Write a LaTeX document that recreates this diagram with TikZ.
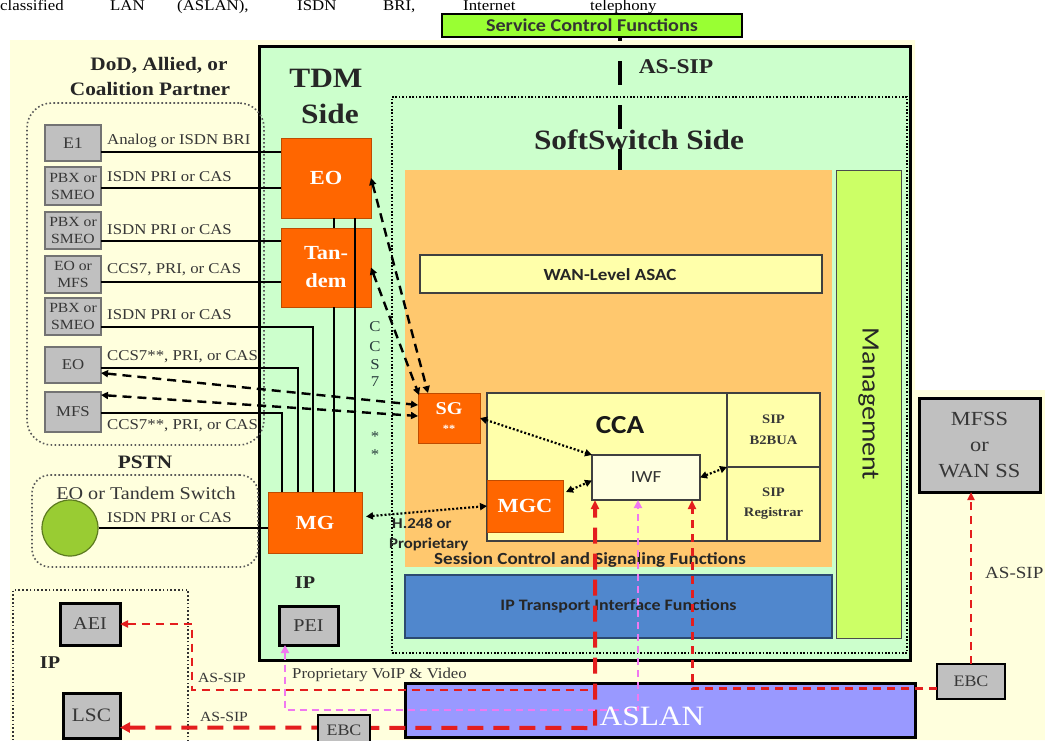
\documentclass[tikz,border=0pt]{standalone}
\usepackage{fontspec}
\setmainfont{Liberation Serif}[FakeStretch=1.12]
\newfontfamily\calfont{Carlito}[FakeStretch=1.12]
\usetikzlibrary{arrows.meta,calc}
\newcommand{\fsz}[2]{\fontsize{#1}{#2}\selectfont}
\definecolor{bgyel}{RGB}{255,255,221}
\definecolor{tdmgreen}{RGB}{204,255,204}
\definecolor{scfgreen}{RGB}{153,255,51}
\definecolor{mgmtgreen}{RGB}{204,255,102}
\definecolor{scsorange}{RGB}{255,200,110}
\definecolor{boxorange}{RGB}{255,102,0}
\definecolor{ccayel}{RGB}{255,255,170}
\definecolor{iwfyel}{RGB}{255,255,225}
\definecolor{devgray}{RGB}{192,192,192}
\definecolor{ipblue}{RGB}{80,135,205}
\definecolor{aslanblue}{RGB}{153,153,255}
\definecolor{circgreen}{RGB}{153,204,51}
\definecolor{sigred}{RGB}{228,30,30}
\definecolor{pinkline}{RGB}{240,120,240}
\definecolor{lbl}{RGB}{55,55,55}
\definecolor{ccsc}{RGB}{40,60,60}
\begin{document}
\begin{tikzpicture}[x=1pt,y=-1pt,
  bx/.style={inner sep=0pt, outer sep=0pt},
  dev/.style={bx, draw=black!55, line width=1.6pt, fill=devgray, minimum width=56pt, text=lbl, font=\fsz{14}{17}, align=center},
  blk/.style={bx, draw=black, line width=3pt, fill=devgray, text=lbl, align=center, font=\fsz{18}{20}},
  orng/.style={bx, draw=boxorange!75!black, line width=1pt, fill=boxorange, text=white, font=\bfseries\fsz{20}{22}, align=center},
  lbltxt/.style={inner sep=0pt, text=lbl, font=\fsz{15}{17}},
  ttl/.style={inner sep=0pt, text=black!85, font=\bfseries\fsz{19}{21}},
  hdrw/.style={anchor=base west, inner sep=0pt, font=\fsz{15}{17}},
  lnk/.style={line width=2pt, black},
  trunk/.style={line width=2.6pt, black},
  sigarr/.style={line width=2.4pt, black, dash pattern=on 9pt off 6pt, arrows={Triangle[length=7pt,width=7pt]-Triangle[length=7pt,width=7pt]}},
  dotarr/.style={line width=2.2pt, black, dash pattern=on 2pt off 2pt, arrows={Triangle[length=7pt,width=7pt]-Triangle[length=7pt,width=7pt]}},
  grp/.style={draw=black!65, line width=1.6pt, dash pattern=on 1.6pt off 2.4pt},
  redthin/.style={sigred, line width=2pt, dash pattern=on 8pt off 6pt},
  redthick/.style={sigred, line width=4pt, dash pattern=on 16pt off 10pt},
  pinkl/.style={pinkline, line width=2.5pt, dash pattern=on 7pt off 5pt}
]
\fill[white] (0,0) rectangle (1045,740);
\useasboundingbox (0,0) rectangle (1045,740);
\fill[bgyel] (10,40) -- (915,40) -- (915,390) -- (1045,390) -- (1045,740) -- (10,740) -- cycle;

% header line (words at their places)
\node[hdrw] (hw1) at (0,10) {classified};
\node[hdrw] (hw2) at (110,10) {LAN};
\node[hdrw] (hw3) at (177,10) {(ASLAN),};
\node[hdrw] (hw4) at (297,10) {ISDN};
\node[hdrw] (hw5) at (383,10) {BRI,};
\node[hdrw] (hw6) at (463,10) {Internet};
\node[hdrw] (hw7) at (590,10) {telephony};

% main containers
\node[bx, draw=black, line width=3pt, fill=tdmgreen, minimum width=651pt, minimum height=614pt] (main) at (584.5,353) {};
\node[bx, draw=black, line width=1.8pt, dash pattern=on 1.6pt off 1.8pt, minimum width=515pt, minimum height=556pt] (ss) at (649.5,375) {};
\node[bx, draw=black, line width=2.5pt, fill=scfgreen, minimum width=300pt, minimum height=23pt, font=\calfont\bfseries\fsz{18}{20}, text=black!80] (scf) at (592,25.5) {Service Control Functions};
\node[bx, fill=scsorange, minimum width=427pt, minimum height=397pt] (scs) at (618.5,368.5) {};
\node[bx, draw=ipblue!55!black, line width=1.5pt, fill=ipblue, minimum width=427pt, minimum height=63pt, font=\calfont\bfseries\fsz{16}{18}, text=black!85] (ipt) at (618.5,606.5) {IP Transport Interface Functions};
\node[bx, draw=black!70, line width=1pt, fill=mgmtgreen, minimum width=65pt, minimum height=468pt] (mgmt) at (868.5,404) {};
\node[rotate=-90, inner sep=0pt, font=\calfont\fsz{25}{27}, text=black!85] (mgmtlbl) at (mgmt.center) {Management};

% AS-SIP to service control
\coordinate (asx) at (620,0);
\draw[line width=4pt, dash pattern=on 24pt off 20pt, dash phase=20pt] (scf.south -| asx) -- (scs.north -| asx);
\node[ttl, font=\bfseries\fsz{21}{23}] (assip) at (676,67) {AS-SIP};

% titles
\node[ttl, font=\bfseries\fsz{28}{30}] (tdm) at (326,78) {TDM};
\node[ttl, font=\bfseries\fsz{28}{30}] (side) at (330,114) {Side};
\node[ttl, font=\bfseries\fsz{28}{30}] (ssl) at (639,140) {SoftSwitch Side};
\node[ttl] (dod1) at (159,65) {DoD, Allied, or};
\node[ttl] (dod2) at (150,89) {Coalition Partner};
\node[ttl] (pstnlbl) at (145,462) {PSTN};

% WAN-level ASAC
\node[bx, draw=black!75, line width=1.2pt, fill=ccayel, minimum width=402pt, minimum height=38pt] (wan) at (621,274) {};
\node[inner sep=0pt, font=\calfont\bfseries\fsz{17}{19}, text=black!85] (wanlbl) at (610,275) {WAN-Level ASAC};

% CCA
\node[bx, draw=black!75, line width=1.2pt, fill=ccayel, minimum width=333pt, minimum height=148pt] (cca) at (653.5,467) {};
\node[inner sep=0pt, font=\calfont\bfseries\fsz{26}{28}, text=black!90] (ccalbl) at (620,425) {CCA};
\node[bx, draw=black!75, line width=1.2pt, fill=ccayel, minimum width=93pt, minimum height=74pt, font=\bfseries\fsz{13}{21}, align=center, text=lbl] (b2b) at (773.5,430) {SIP\\B2BUA};
\node[bx, draw=black!75, line width=1.2pt, fill=ccayel, minimum width=93pt, minimum height=74pt, font=\bfseries\fsz{13}{20}, align=center, text=lbl] (reg) at (773.5,504) {SIP\\Registrar};
\node[bx, draw=black!75, line width=1.2pt, fill=iwfyel, minimum width=108pt, minimum height=45pt, font=\calfont\fsz{17}{19}, text=black!80] (iwf) at (646,477.5) {IWF};
\node[orng, minimum width=76pt, minimum height=52pt] (mgc) at (525,506) {MGC};
\node[orng, minimum width=62pt, minimum height=50pt, font=\bfseries\fsz{18}{18}] (sg) at (449,418) {SG\\{\fsz{11}{11}**}};
\node[inner sep=0pt, font=\calfont\bfseries\fsz{17}{19}, text=black!85] (scslbl) at (590,560) {Session Control and Signaling Functions};
\node[anchor=west, inner sep=0pt, font=\calfont\bfseries\fsz{15}{17}, text=black!85] (h248) at (392,523) {H.248 or};
\node[anchor=west, inner sep=0pt, font=\calfont\bfseries\fsz{15}{17}, text=black!85] (prop) at (389,544) {Proprietary};

% left groups
\node[bx, grp, rounded corners=25pt, minimum width=237pt, minimum height=342pt] (dod) at (145.5,274) {};
\node[bx, grp, rounded corners=18pt, minimum width=226pt, minimum height=92pt] (pstng) at (145,521) {};
\node[bx, draw=black!80, line width=1.8pt, dash pattern=on 1.6pt off 2.2pt, minimum width=175pt, minimum height=170pt] (ipg) at (100.5,675) {};

% TDM switches
\node[orng, minimum width=90pt, minimum height=80pt] (eo) at (326,178) {EO};
\node[orng, minimum width=90pt, minimum height=79pt, font=\bfseries\fsz{20}{28}] (tan) at (326,267.5) {Tan-\\dem};
\node[orng, minimum width=94pt, minimum height=61pt] (mg) at (315,522.5) {MG};

% devices
\node[dev, minimum height=36pt, font=\fsz{16}{17}] (d1) at (73,143) {E1};
\node[dev, minimum height=38pt] (d2) at (73,186) {PBX or\\SMEO};
\node[dev, minimum height=37pt] (d3) at (73,230.5) {PBX or\\SMEO};
\node[dev, minimum height=37pt] (d4) at (73,274.5) {EO or\\MFS};
\node[dev, minimum height=37pt] (d5) at (73,316.5) {PBX or\\SMEO};
\node[dev, minimum height=36pt, font=\fsz{15}{17}] (d6) at (73,365) {EO};
\node[dev, minimum height=40pt, font=\fsz{15}{17}] (d7) at (73,412) {MFS};

\node[lbltxt, anchor=west] (l1) at (107,141) {Analog or ISDN BRI};
\node[lbltxt, anchor=west] (l2) at (107,177) {ISDN PRI or CAS};
\node[lbltxt, anchor=west] (l3) at (107,230) {ISDN PRI or CAS};
\node[lbltxt, anchor=west] (l4) at (107,270) {CCS7, PRI, or CAS};
\node[lbltxt, anchor=west] (l5) at (107,315) {ISDN PRI or CAS};
\node[lbltxt, anchor=west] (l6) at (107,357) {CCS7**, PRI, or CAS};
\node[lbltxt, anchor=west] (l7) at (107,426) {CCS7**, PRI, or CAS};

% device links
\draw[lnk] ($(d1.east)+(0,9)$) -- ($(eo.west)+(0,-26)$);
\draw[lnk] ($(d2.east)+(0,2)$) -- ($(eo.west)+(0,10)$);
\draw[lnk] ($(d3.east)+(0,10.5)$) -- ($(tan.west)+(0,-26.5)$);
\draw[lnk] ($(d4.east)+(0,7.5)$) -- ($(tan.west)+(0,14.5)$);
\draw[trunk] ($(d5.east)+(0,10.5)$) -| ($(mg.north west)+(45,0)$);
\draw[trunk] ($(d6.east)+(0,3)$) -| ($(mg.north west)+(30,0)$);
\draw[trunk] ($(d7.east)+(0,1)$) -| ($(mg.north west)+(14,0)$);
\draw[trunk] ($(eo.south west)+(53,0)$) -- ($(tan.north west)+(53,0)$);
\draw[trunk] ($(tan.south west)+(53,0)$) -- ($(mg.north west)+(66,0)$);
\draw[trunk] ($(eo.south west)+(74,0)$) -- ($(mg.north west)+(87,0)$);

% PSTN
\node[ttl, font=\fsz{18}{20}, text=lbl] (eots) at (146,493) {EO or Tandem Switch};
\node[circle, draw=circgreen!60!black, line width=1.2pt, fill=circgreen, minimum size=56pt, inner sep=0pt] (pstn) at (70,528) {};
\draw[lnk] (pstn.east) -- (pstn.east -| mg.west);
\node[lbltxt, anchor=west] (l8) at (107,518) {ISDN PRI or CAS};

% CCS7 signalling
\draw[sigarr] (eo.east) -- ($(sg.north west)+(10,0)$);
\draw[sigarr] (tan.east) -- ($(sg.north west)+(1,2)$);
\draw[sigarr] ($(d6.east)+(0,8)$) -- ($(sg.west)+(0,-13)$);
\draw[sigarr] ($(d7.east)+(0,-17)$) -- ($(sg.west)+(0,-2)$);
\foreach \t/\yy [count=\i] in {C/327,C/347,S/365,7/382,*/437,*/455}
  \node[inner sep=0pt, text=ccsc, font=\fsz{15}{15}] (ccs\i) at (375,\yy) {\t};

% control links
\draw[dotarr] (sg.east) -- (iwf.north west);
\draw[dotarr] ($(mgc.east)+(3,-14)$) -- ($(iwf.west)+(0,3)$);
\draw[dotarr] (iwf.east) -- (b2b.south west);
\draw[dotarr] ($(mg.east)+(4,-6)$) -- (mgc.west);

% IP side
\node[ttl, font=\bfseries\fsz{18}{20}] (ip1) at (50,663) {IP};
\node[ttl, font=\bfseries\fsz{18}{20}] (ip2) at (305,583) {IP};
\node[blk, minimum width=59pt, minimum height=39pt] (pei) at (308.5,625.5) {PEI};
\node[blk, minimum width=60pt, minimum height=42pt] (aei) at (90,624) {AEI};
\node[blk, minimum width=57pt, minimum height=45pt, font=\fsz{19}{20}] (lsc) at (91.5,715.5) {LSC};
\node[blk, minimum width=121pt, minimum height=94pt, font=\fsz{20}{26}] (mfss) at (979.5,445) {MFSS\\or\\WAN SS};
\node[bx, draw=black, line width=3pt, fill=aslanblue, minimum width=510pt, minimum height=54pt] (aslan) at (660,710) {};
\node[blk, line width=2.5pt, minimum width=68pt, minimum height=35pt, font=\fsz{16}{18}] (ebc2) at (971,681.5) {EBC};

\node[lbltxt, font=\fsz{14}{16}] (as1) at (222,678) {AS-SIP};
\node[lbltxt, font=\fsz{14}{16}] (as2) at (224,717) {AS-SIP};
\node[lbltxt, anchor=west] (pvv) at (292,675) {Proprietary VoIP \& Video};
\node[lbltxt, anchor=west, font=\fsz{17}{19}] (as3) at (985,573) {AS-SIP};

\coordinate (rA) at (192,690);
\coordinate (xL) at (595,690);
\coordinate (xR) at (692,690);
\coordinate (xP) at (638,710);
\coordinate (bL) at (595,728);
\draw[redthick, arrows={Triangle[length=10pt,width=10pt]-Triangle[length=9pt,width=8pt]}] ($(lsc.east)+(0,12)$) -- (bL) -- (bL |- iwf.south);
\draw[redthin, arrows={Triangle[length=8pt,width=7pt]-}] (aei.east) -| (rA) -- (xL);
\draw[redthin, line width=3pt, arrows={-Triangle[length=9pt,width=8pt]}] ($(ebc2.west)+(0,7)$) -| (xR |- iwf.south);
\draw[pinkl, arrows={Triangle[length=8pt,width=8pt]-Triangle[length=8pt,width=8pt]}] ($(pei.south west)+(6,0)$) |- (xP) -- (xP |- iwf.south);
\draw[redthin, arrows={-Triangle[length=8pt,width=7pt]}] (ebc2.north) -- (ebc2.north |- mfss.south);

\node[blk, line width=2.5pt, minimum width=52pt, minimum height=30pt, font=\fsz{16}{18}] (ebc1) at (344,730) {EBC};
\node[inner sep=0pt, text=white, font=\fsz{28}{30}] (aslanlbl) at (652,716) {ASLAN};
\end{tikzpicture}
\end{document}
